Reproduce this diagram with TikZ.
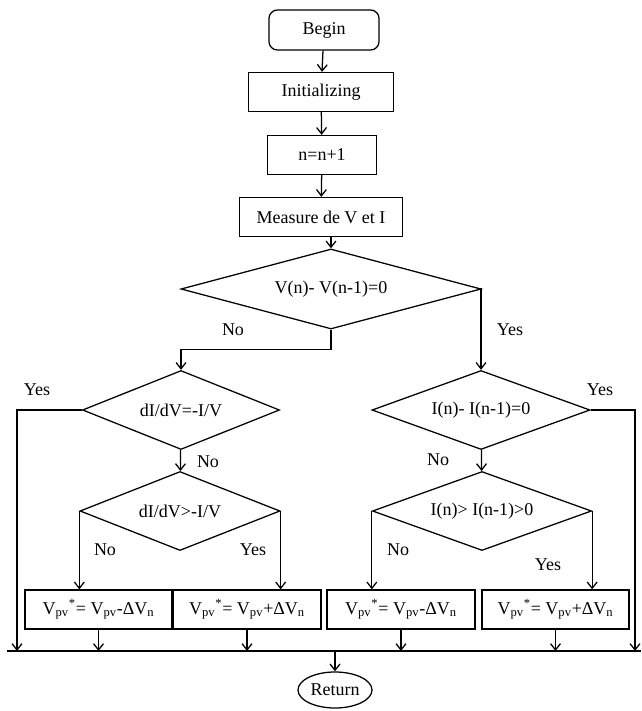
\documentclass[tikz,border=0pt]{standalone}
\usepackage{fontspec}
\setmainfont{Liberation Serif}
\usetikzlibrary{shapes.geometric,arrows.meta}
\tikzset{
  box/.style={draw, line width=0.9pt, inner sep=0pt, minimum height=0.975cm},
  dec/.style={draw, diamond, aspect=2.6, line width=0.9pt, inner sep=0pt, minimum height=1.975cm},
  flow/.style={line width=0.9pt, -{Straight Barb[length=4.5pt,width=7pt]}},
  line/.style={line width=0.9pt},
  lbl/.style={inner sep=0pt},
}
\begin{document}
\begin{tikzpicture}[x=0.025cm, y=-0.025cm, font=\fontsize{12.8}{14}\selectfont]
\useasboundingbox (0,0) rectangle (641,711);
% top of the chart
\node[box, rounded corners=6pt, minimum width=2.75cm, minimum height=1cm] (begin) at (324,30) {Begin};
\node[box, minimum width=3.625cm] (init) at (321,92) {Initializing};
\node[box, minimum width=2.725cm] (incr) at (322,155) {n=n+1};
\node[box, minimum width=4.075cm] (meas) at (321,217) {Measure de V et I};
\draw[flow] (begin) -- (init);
\draw[flow] (init) -- (incr);
\draw[flow] (incr) -- (meas);
% decisions
\node[dec, aspect=3.6, minimum width=7.5cm, minimum height=2cm] (dv) at (331,289) {V(n)- V(n-1)=0};
\node[dec, minimum width=4.925cm] (dlt) at (181,410) {dI/dV=-I/V};
\node[dec, minimum width=5cm] (dgt) at (180,511) {dI/dV>-I/V};
\node[dec, aspect=2.8, minimum width=5.45cm] (di) at (481,410) {I(n)- I(n-1)=0};
\node[dec, aspect=2.8, minimum width=5.475cm] (dinc) at (482,511) {I(n)> I(n-1)>0};
\draw[flow] (dv.north |- meas.south) -- (dv.north);
\draw[flow] (dv.south) -- ++(0,20) -| (dlt.north);
\draw[flow] (dv.east) -| (di.north);
\draw[flow] (dlt) -- (dgt);
\draw[flow] (di) -- (dinc);
% updates of the reference voltage
\node[box, minimum width=3.675cm] (b1) at (98.5,609.5) {V\textsubscript{pv}\textsuperscript{*}= V\textsubscript{pv}-ΔV\textsubscript{n}};
\node[box, minimum width=3.7cm] (b2) at (247,609.5) {V\textsubscript{pv}\textsuperscript{*}= V\textsubscript{pv}+ΔV\textsubscript{n}};
\node[box, minimum width=3.7cm] (b3) at (401,609.5) {V\textsubscript{pv}\textsuperscript{*}= V\textsubscript{pv}-ΔV\textsubscript{n}};
\node[box, minimum width=3.675cm] (b4) at (555.5,609.5) {V\textsubscript{pv}\textsuperscript{*}= V\textsubscript{pv}+ΔV\textsubscript{n}};
\draw[flow] (dgt.west) -- (dgt.west |- b1.north);
\draw[flow] (dgt.east) -- (dgt.east |- b2.north);
\draw[flow] (dinc.west) -- (dinc.west |- b3.north);
\draw[flow] (dinc.east) -- (dinc.east |- b4.north);
% common return line
\coordinate (busL) at (7,651);
\coordinate (busR) at (641,651);
\coordinate (yesL) at (17,651);
\coordinate (yesR) at (635,651);
\draw[line] (busL) -- (busR);
\draw[flow] (dlt.west) -| (yesL);
\draw[flow] (di.east) -| (yesR);
\foreach \b in {b1,b2,b3,b4}
  \draw[flow] (\b.south) -- (\b.south |- busL);
\node[draw, ellipse, line width=0.9pt, inner sep=0pt, minimum width=1.85cm, minimum height=0.9cm] (ret) at (335,690) {Return};
\draw[flow] (ret.north |- busL) -- (ret.north);
% branch labels
\node[lbl] (no1) at (233,330) {No};
\node[lbl] (yes1) at (510,330) {Yes};
\node[lbl] (yes2) at (37,390) {Yes};
\node[lbl] (yes3) at (600,390) {Yes};
\node[lbl] (no2) at (208,462) {No};
\node[lbl] (no3) at (438,460) {No};
\node[lbl] (no4) at (105,550) {No};
\node[lbl] (yes4) at (253,550) {Yes};
\node[lbl] (no5) at (398,550) {No};
\node[lbl] (yes5) at (548,565) {Yes};
\end{tikzpicture}
\end{document}
